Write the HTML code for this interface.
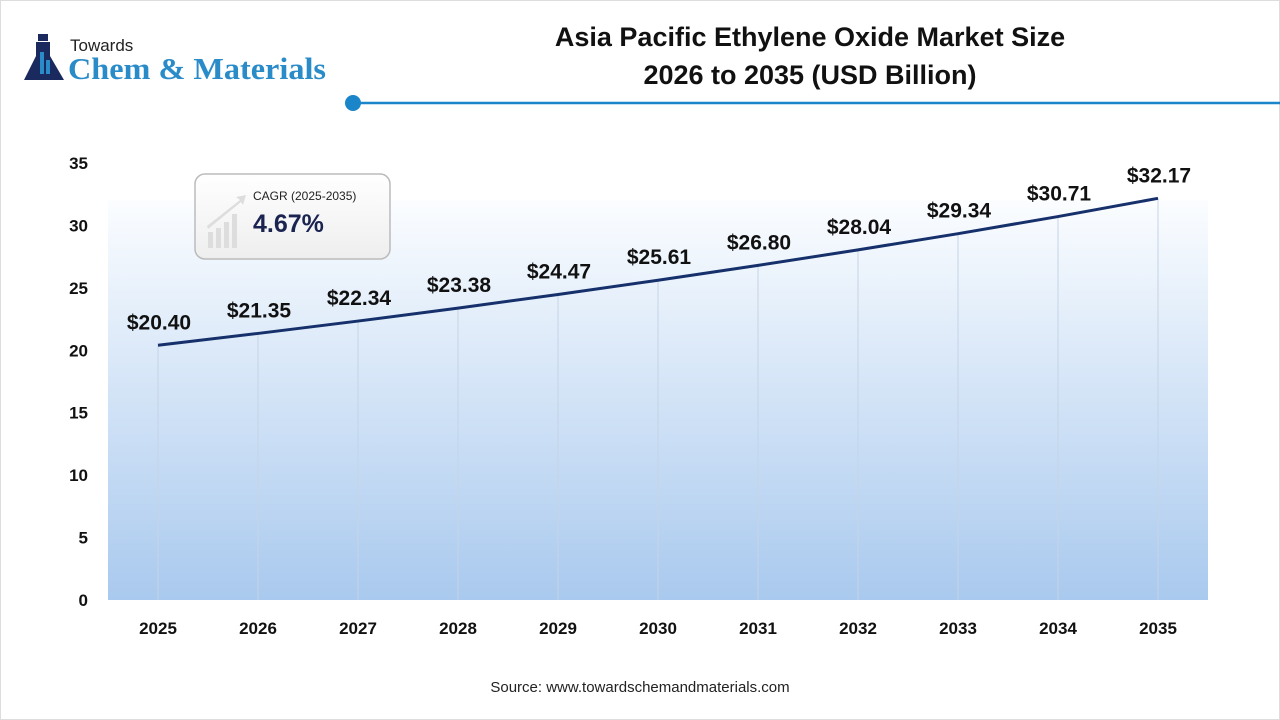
<!DOCTYPE html>
<html><head><meta charset="utf-8"><style>
body{margin:0;width:1280px;height:720px;background:#fff;font-family:"Liberation Sans",sans-serif;overflow:hidden}
#wrap{position:relative;width:1278px;height:718px;border:1px solid #ddd}
</style></head><body><div id="wrap">
<svg width="1280" height="720" style="position:absolute;left:-1px;top:-1px" id="svg">
<defs>
<linearGradient id="bg" x1="0" y1="0" x2="0" y2="1"><stop offset="0" stop-color="#fbfdff"/><stop offset="1" stop-color="#a9c9ee"/></linearGradient>
<linearGradient id="ph" x1="0" y1="0" x2="0" y2="1"><stop offset="0" stop-color="#fff"/><stop offset="1" stop-color="#eee"/></linearGradient>
</defs>
<g>
<path d="M24 80 L36 56 L36 42 L50 42 L50 56 L64 80 Z" fill="#1b2a5e"/>
<rect x="38" y="34" width="10" height="7" fill="#1b2a5e"/>
<rect x="40" y="52" width="4" height="22" fill="#2a8bc9"/><rect x="46" y="60" width="4" height="14" fill="#2a8bc9"/>
<text x="70" y="51" font-size="17" fill="#222">Towards</text>
<text x="68" y="79" font-size="31" font-weight="bold" fill="#2a8bc9" font-family="Liberation Serif,serif" textLength="258" lengthAdjust="spacingAndGlyphs">Chem &amp; Materials</text>
</g>
<text x="810" y="46" font-size="27" font-weight="bold" text-anchor="middle" fill="#111">Asia Pacific Ethylene Oxide Market Size</text>
<text x="810" y="84" font-size="27" font-weight="bold" text-anchor="middle" fill="#111">2026 to 2035  (USD Billion)</text>
<line x1="353" y1="103" x2="1280" y2="103" stroke="#1a86c9" stroke-width="2.5"/>
<circle cx="353" cy="103" r="8" fill="#1a86c9"/>
<rect x="108" y="200" width="1100" height="400" fill="url(#bg)"/>
<g id="grid"></g><g id="yt"></g><g id="xt"></g>
<path id="line" fill="none" stroke="#16306b" stroke-width="3"/>
<g id="lab"></g>
<g>
<rect x="195" y="174" width="195" height="85" rx="10" fill="url(#ph)" stroke="#bbb" stroke-width="1.5"/>
<g fill="#ddd"><rect x="208" y="232" width="5" height="16"/><rect x="216" y="228" width="5" height="20"/><rect x="224" y="222" width="5" height="26"/><rect x="232" y="214" width="5" height="34"/><path d="M207 226 L240 200 L236 197 L246 195 L243 205 L241 202 L208 229Z"/></g>
<text x="253" y="200" font-size="12" fill="#222">CAGR (2025-2035)</text>
<text x="253" y="232" font-size="25" font-weight="bold" fill="#1b2350">4.67%</text>
</g>
<text x="640" y="692" font-size="15" text-anchor="middle" fill="#222">Source: www.towardschemandmaterials.com</text>
</svg></div>
<script>
const years=[2025,2026,2027,2028,2029,2030,2031,2032,2033,2034,2035];
const values=[20.40,21.35,22.34,23.38,24.47,25.61,26.80,28.04,29.34,30.71,32.17];
const yTicks=[0,5,10,15,20,25,30,35];
const NS="http://www.w3.org/2000/svg";
const x=i=>158+i*100, y=v=>600-v*(437/35);
function mk(t,a,p,txt){const e=document.createElementNS(NS,t);for(const k in a)e.setAttribute(k,a[k]);if(txt!==undefined)e.textContent=txt;p.appendChild(e);return e;}
const G=document.getElementById('grid'),YT=document.getElementById('yt'),XT=document.getElementById('xt'),L=document.getElementById('lab');
yTicks.forEach(t=>{const e=mk('text',{x:88,y:y(t)+6,'font-size':17,'font-weight':'bold','text-anchor':'end',fill:'#111'},YT,t);

});
let d='';
years.forEach((yr,i)=>{
const g=mk('line',{x1:x(i),x2:x(i),y1:y(values[i]),y2:600,stroke:'#c5d4e6','stroke-width':1},G);


const t=mk('text',{x:x(i),y:634,'font-size':17,'font-weight':'bold','text-anchor':'middle',fill:'#111'},XT,yr);


const l=mk('text',{x:x(i)+1,y:y(values[i])-16,'font-size':21,'font-weight':'bold','text-anchor':'middle',fill:'#111'},L,'$'+values[i].toFixed(2));


d+=(i?'L':'M')+x(i)+' '+y(values[i]);
});
document.getElementById('line').setAttribute('d',d);
</script></body></html>
